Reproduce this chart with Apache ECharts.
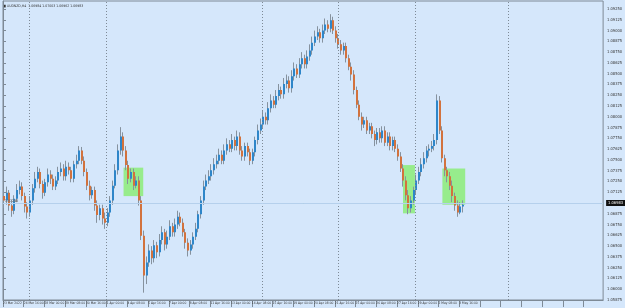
<!DOCTYPE html>
<html>
<head>
<meta charset="utf-8">
<script src="https://cdn.jsdelivr.net/npm/echarts@6/dist/echarts.min.js"></script>
<style>
  html, body { margin: 0; padding: 0; background: #d5e7fb; }
  #chart { width: 625px; height: 308px; }
</style>
</head>
<body>
<div id="chart"></div>
<script>
// AUDNZD H4, one row per bar: [open, close, low, high]
const candles = [
  [1.0708, 1.0703, 1.0694, 1.0715], [1.0703, 1.0712, 1.0698, 1.0719], [1.0712, 1.0697, 1.0691, 1.0715], [1.0697, 1.0691, 1.0684, 1.0703],
  [1.0691, 1.0705, 1.0687, 1.0709], [1.0705, 1.0715, 1.0701, 1.0722], [1.0715, 1.0719, 1.0710, 1.0726], [1.0719, 1.0708, 1.0703, 1.0724],
  [1.0708, 1.0696, 1.0689, 1.0712], [1.0696, 1.0689, 1.0682, 1.0701], [1.0689, 1.0703, 1.0684, 1.0708], [1.0703, 1.0717, 1.0698, 1.0722],
  [1.0717, 1.0728, 1.0712, 1.0736], [1.0728, 1.0736, 1.0724, 1.0742], [1.0736, 1.0722, 1.0717, 1.0740], [1.0722, 1.0712, 1.0705, 1.0726],
  [1.0712, 1.0724, 1.0708, 1.0728], [1.0724, 1.0733, 1.0719, 1.0740], [1.0733, 1.0728, 1.0722, 1.0738], [1.0728, 1.0719, 1.0715, 1.0733],
  [1.0719, 1.0726, 1.0715, 1.0731], [1.0726, 1.0736, 1.0722, 1.0742], [1.0736, 1.0740, 1.0731, 1.0747], [1.0740, 1.0731, 1.0726, 1.0745],
  [1.0731, 1.0742, 1.0726, 1.0749], [1.0742, 1.0738, 1.0733, 1.0747], [1.0738, 1.0728, 1.0724, 1.0742], [1.0728, 1.0745, 1.0724, 1.0749],
  [1.0745, 1.0749, 1.0740, 1.0756], [1.0749, 1.0761, 1.0745, 1.0766], [1.0761, 1.0749, 1.0745, 1.0765], [1.0749, 1.0736, 1.0731, 1.0754],
  [1.0736, 1.0720, 1.0715, 1.0740], [1.0720, 1.0709, 1.0703, 1.0726], [1.0709, 1.0715, 1.0705, 1.0719], [1.0715, 1.0697, 1.0691, 1.0719],
  [1.0697, 1.0686, 1.0677, 1.0703], [1.0686, 1.0694, 1.0680, 1.0698], [1.0694, 1.0682, 1.0675, 1.0698], [1.0682, 1.0677, 1.0670, 1.0689],
  [1.0677, 1.0689, 1.0673, 1.0694], [1.0689, 1.0703, 1.0684, 1.0708], [1.0703, 1.0720, 1.0698, 1.0726], [1.0720, 1.0738, 1.0717, 1.0745],
  [1.0738, 1.0761, 1.0733, 1.0768], [1.0761, 1.0777, 1.0756, 1.0788], [1.0777, 1.0761, 1.0754, 1.0782], [1.0761, 1.0744, 1.0738, 1.0766],
  [1.0744, 1.0728, 1.0722, 1.0749], [1.0728, 1.0736, 1.0724, 1.0740], [1.0736, 1.0720, 1.0715, 1.0740], [1.0720, 1.0726, 1.0717, 1.0731],
  [1.0726, 1.0703, 1.0697, 1.0731], [1.0703, 1.0662, 1.0657, 1.0708], [1.0662, 1.0616, 1.0596, 1.0668], [1.0616, 1.0631, 1.0606, 1.0638],
  [1.0631, 1.0645, 1.0626, 1.0652], [1.0645, 1.0636, 1.0629, 1.0650], [1.0636, 1.0651, 1.0631, 1.0657], [1.0651, 1.0643, 1.0636, 1.0655],
  [1.0643, 1.0657, 1.0638, 1.0664], [1.0657, 1.0666, 1.0652, 1.0673], [1.0666, 1.0652, 1.0645, 1.0670], [1.0652, 1.0661, 1.0647, 1.0668],
  [1.0661, 1.0673, 1.0657, 1.0680], [1.0673, 1.0666, 1.0661, 1.0677], [1.0666, 1.0675, 1.0661, 1.0682], [1.0675, 1.0684, 1.0670, 1.0691],
  [1.0684, 1.0677, 1.0673, 1.0689], [1.0677, 1.0666, 1.0661, 1.0682], [1.0666, 1.0654, 1.0647, 1.0670], [1.0654, 1.0645, 1.0638, 1.0659],
  [1.0645, 1.0652, 1.0640, 1.0657], [1.0652, 1.0661, 1.0647, 1.0666], [1.0661, 1.0670, 1.0657, 1.0677], [1.0670, 1.0687, 1.0666, 1.0691],
  [1.0687, 1.0703, 1.0682, 1.0708], [1.0703, 1.0719, 1.0698, 1.0726], [1.0719, 1.0726, 1.0715, 1.0733], [1.0726, 1.0731, 1.0722, 1.0738],
  [1.0731, 1.0738, 1.0726, 1.0745], [1.0738, 1.0745, 1.0733, 1.0752], [1.0745, 1.0749, 1.0740, 1.0756], [1.0749, 1.0756, 1.0745, 1.0763],
  [1.0756, 1.0749, 1.0745, 1.0761], [1.0749, 1.0761, 1.0745, 1.0768], [1.0761, 1.0768, 1.0756, 1.0775], [1.0768, 1.0763, 1.0759, 1.0773],
  [1.0763, 1.0773, 1.0759, 1.0780], [1.0773, 1.0766, 1.0761, 1.0777], [1.0766, 1.0777, 1.0761, 1.0784], [1.0777, 1.0761, 1.0756, 1.0782],
  [1.0761, 1.0754, 1.0749, 1.0766], [1.0754, 1.0766, 1.0749, 1.0770], [1.0766, 1.0759, 1.0754, 1.0770], [1.0759, 1.0749, 1.0744, 1.0763],
  [1.0749, 1.0759, 1.0745, 1.0763], [1.0759, 1.0773, 1.0754, 1.0777], [1.0773, 1.0784, 1.0768, 1.0791], [1.0784, 1.0791, 1.0780, 1.0798],
  [1.0791, 1.0800, 1.0787, 1.0807], [1.0800, 1.0796, 1.0791, 1.0805], [1.0796, 1.0810, 1.0791, 1.0817], [1.0810, 1.0819, 1.0805, 1.0826],
  [1.0819, 1.0814, 1.0810, 1.0824], [1.0814, 1.0824, 1.0810, 1.0831], [1.0824, 1.0831, 1.0819, 1.0838], [1.0831, 1.0826, 1.0821, 1.0835],
  [1.0826, 1.0838, 1.0821, 1.0845], [1.0838, 1.0842, 1.0833, 1.0849], [1.0842, 1.0833, 1.0828, 1.0847], [1.0833, 1.0847, 1.0828, 1.0854],
  [1.0847, 1.0856, 1.0842, 1.0863], [1.0856, 1.0849, 1.0845, 1.0861], [1.0849, 1.0861, 1.0845, 1.0868], [1.0861, 1.0868, 1.0856, 1.0875],
  [1.0868, 1.0861, 1.0856, 1.0872], [1.0861, 1.0870, 1.0856, 1.0877], [1.0870, 1.0877, 1.0865, 1.0884], [1.0877, 1.0886, 1.0872, 1.0893],
  [1.0886, 1.0893, 1.0882, 1.0900], [1.0893, 1.0898, 1.0889, 1.0905], [1.0898, 1.0891, 1.0886, 1.0902], [1.0891, 1.0900, 1.0886, 1.0907],
  [1.0900, 1.0907, 1.0896, 1.0914], [1.0907, 1.0902, 1.0898, 1.0912], [1.0902, 1.0912, 1.0898, 1.0919], [1.0912, 1.0900, 1.0896, 1.0916],
  [1.0900, 1.0891, 1.0886, 1.0905], [1.0891, 1.0884, 1.0879, 1.0896], [1.0884, 1.0877, 1.0872, 1.0889], [1.0877, 1.0882, 1.0872, 1.0886],
  [1.0882, 1.0868, 1.0863, 1.0886], [1.0868, 1.0858, 1.0854, 1.0872], [1.0858, 1.0849, 1.0842, 1.0863], [1.0849, 1.0831, 1.0826, 1.0854],
  [1.0831, 1.0814, 1.0810, 1.0835], [1.0814, 1.0800, 1.0796, 1.0819], [1.0800, 1.0791, 1.0784, 1.0805], [1.0791, 1.0796, 1.0787, 1.0800],
  [1.0796, 1.0784, 1.0780, 1.0800], [1.0784, 1.0789, 1.0780, 1.0793], [1.0789, 1.0780, 1.0775, 1.0793], [1.0780, 1.0773, 1.0766, 1.0784],
  [1.0773, 1.0782, 1.0768, 1.0787], [1.0782, 1.0775, 1.0770, 1.0787], [1.0775, 1.0784, 1.0770, 1.0789], [1.0784, 1.0770, 1.0766, 1.0789],
  [1.0770, 1.0777, 1.0766, 1.0782], [1.0777, 1.0766, 1.0761, 1.0782], [1.0766, 1.0773, 1.0761, 1.0777], [1.0773, 1.0763, 1.0759, 1.0777],
  [1.0763, 1.0754, 1.0749, 1.0768], [1.0754, 1.0740, 1.0736, 1.0759], [1.0740, 1.0726, 1.0719, 1.0745], [1.0726, 1.0709, 1.0703, 1.0731],
  [1.0709, 1.0694, 1.0687, 1.0715], [1.0694, 1.0703, 1.0689, 1.0708], [1.0703, 1.0715, 1.0698, 1.0719], [1.0715, 1.0726, 1.0710, 1.0733],
  [1.0726, 1.0736, 1.0722, 1.0742], [1.0736, 1.0745, 1.0731, 1.0752], [1.0745, 1.0752, 1.0740, 1.0759], [1.0752, 1.0761, 1.0747, 1.0766],
  [1.0761, 1.0763, 1.0754, 1.0768], [1.0763, 1.0766, 1.0759, 1.0772], [1.0766, 1.0773, 1.0761, 1.0780], [1.0773, 1.0819, 1.0768, 1.0826],
  [1.0819, 1.0784, 1.0780, 1.0824], [1.0784, 1.0752, 1.0747, 1.0789], [1.0752, 1.0738, 1.0731, 1.0756], [1.0738, 1.0731, 1.0724, 1.0742],
  [1.0731, 1.0720, 1.0715, 1.0736], [1.0720, 1.0708, 1.0701, 1.0726], [1.0708, 1.0697, 1.0691, 1.0712], [1.0697, 1.0689, 1.0684, 1.0703],
  [1.0689, 1.0696, 1.0687, 1.0701], [1.0696, 1.0698, 1.0689, 1.0703]
]

// time axis labels, one every 8 bars
const timeLabels = ['23 Mar 2022', '24 Mar 16:00', '28 Mar 00:00', '29 Mar 08:00', '30 Mar 16:00', '1 Apr 00:00',
  '4 Apr 08:00', '5 Apr 16:00', '7 Apr 00:00', '8 Apr 08:00', '11 Apr 16:00', '13 Apr 00:00', '14 Apr 08:00',
  '15 Apr 16:00', '19 Apr 00:00', '20 Apr 08:00', '21 Apr 16:00', '25 Apr 00:00', '26 Apr 08:00', '27 Apr 16:00',
  '29 Apr 00:00', '2 May 08:00', '3 May 16:00']

// horizontal levels (green dash-dot) and the highlighted zones [fromBar, toBar, top, bottom]
const levels = [1.0729, 1.0724]
const zones = [
  [46.5, 54.1, 1.0741, 1.0708],
  [154.3, 158.9, 1.0744, 1.0688],
  [169.5, 178.3, 1.0740, 1.0698]
]
// weekly separators (bar positions)
const separators = [10.3, 40, 100, 129.5, 159.2, 195]
const lastPrice = 1.06983

const bullColor = '#2e86c9'
const bearColor = '#d2723d'
const wickColor = '#86929e'
const tinyFont = '"Liberation Sans Narrow", "DejaVu Sans Condensed", sans-serif'

const chart = echarts.init(document.getElementById('chart'))

function renderCandle(params, api) {
  const i = api.value(0)
  const px = Math.round(api.coord([i, api.value(1)])[0])
  const o = api.coord([i, api.value(1)])[1]
  const c = api.coord([i, api.value(2)])[1]
  const lo = api.coord([i, api.value(3)])[1]
  const hi = api.coord([i, api.value(4)])[1]
  const up = api.value(2) >= api.value(1)
  return {
    type: 'group',
    children: [
      { type: 'line', shape: { x1: px + 0.5, y1: hi, x2: px + 0.5, y2: lo }, style: { stroke: wickColor, lineWidth: 1 } },
      { type: 'rect', shape: { x: px, y: Math.min(o, c), width: 2, height: Math.max(1, Math.abs(o - c)) },
        style: { fill: up ? bullColor : bearColor } }
    ]
  }
}

const option = {
  backgroundColor: '#d5e7fb',
  animation: false,
  grid: { left: 0, right: 17, top: 1, bottom: 8, show: true, borderColor: '#7e8a96', borderWidth: 1 },
  xAxis: {
    type: 'value',
    min: 0,
    max: 231.5,
    interval: 8,
    axisLine: { show: true, lineStyle: { color: '#7e8a96' } },
    axisTick: { show: true, length: 7, lineStyle: { color: '#7e8a96' } },
    axisLabel: {
      fontSize: 3.3, color: '#333', align: 'left', margin: 2, fontFamily: tinyFont,
      showMinLabel: true,
      showMaxLabel: false,
      hideOverlap: false,
      formatter: function(v) {
        return timeLabels[v / 8] || ''
      }
    },
    splitLine: { show: false }
  },
  yAxis: {
    type: 'value',
    position: 'right',
    min: 1.05875,
    max: 1.093428,
    interval: 0.00125,
    axisLine: { show: true, lineStyle: { color: '#7e8a96' } },
    axisTick: { show: true, length: 3, lineStyle: { color: '#7e8a96' } },
    axisLabel: {
      fontSize: 4, color: '#333', margin: 4, fontFamily: tinyFont,
      showMaxLabel: false,
      formatter: function(v) { return v.toFixed(5) }
    },
    splitLine: { show: false }
  },
  graphic: [
    { type: 'text', left: 3, top: 4, style: { text: '■ AUDNZD,H4  1.06984 1.07003 1.06962 1.06983', fontSize: 3.5, fill: '#333', fontFamily: tinyFont } }
  ],
  series: [
    {
      type: 'line',
      data: [],
      z: 1,
      markArea: {
        silent: true,
        itemStyle: { color: '#97ec8c' },
        data: zones.map(z => [{ xAxis: z[0], yAxis: z[2] }, { xAxis: z[1], yAxis: z[3] }])
      },
      markLine: {
        silent: true,
        symbol: 'none',
        label: { show: false },
        data: separators.map(s => ({ xAxis: s, lineStyle: { color: '#7e8a96', type: [1, 2], width: 1 } }))
          .concat(levels.map(l => ({
            yAxis: l,
            lineStyle: { color: '#6cc77a', type: [4, 2, 1, 2], width: 1 },
            label: { show: true, position: 'insideStartTop', distance: [2, 0], formatter: l.toFixed(5), fontSize: 3.5, color: '#777', fontFamily: tinyFont }
          })))
      }
    },
    {
      type: 'custom',
      z: 3,
      renderItem: renderCandle,
      encode: { x: 0, y: [1, 2, 3, 4] },
      data: candles.map((r, i) => [i, r[0], r[1], r[2], r[3]]),
      markLine: {
        silent: true,
        symbol: 'none',
        data: [{
          yAxis: lastPrice,
          lineStyle: { color: '#b5d0ec', type: 'solid', width: 1 },
          label: {
            show: true, position: 'end', distance: 3, formatter: lastPrice.toFixed(5),
            fontSize: 4, color: '#fff', backgroundColor: '#111', padding: [1, 2], fontFamily: tinyFont
          }
        }]
      }
    }
  ]
}
chart.setOption(option)
</script>
</body>
</html>
